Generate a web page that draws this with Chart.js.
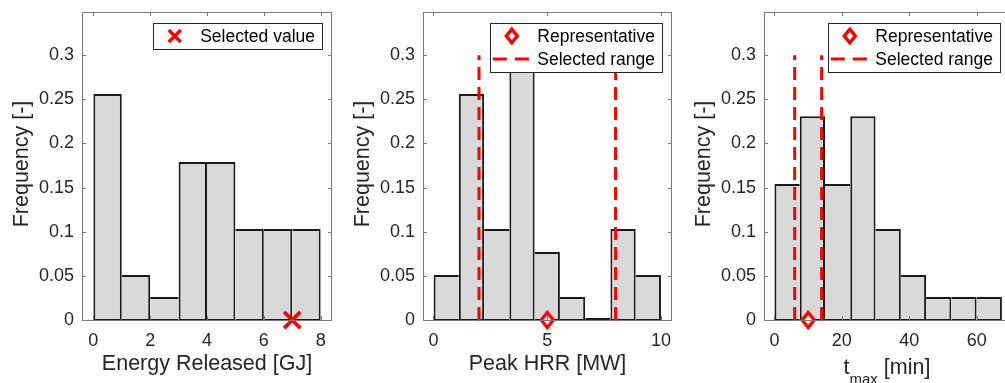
<!DOCTYPE html>
<html>
<head>
<meta charset="utf-8">
<script src="https://cdn.jsdelivr.net/npm/chart.js@4.4.0/dist/chart.umd.min.js"></script>
<style>
  body { margin: 0; width: 1005px; height: 383px; overflow: hidden; background: #fff; position: relative; }
  .pane { position: absolute; top: 0; height: 383px; }
</style>
</head>
<body>
<div class="pane" style="left:0px"><canvas id="c1" width="340" height="383"></canvas></div>
<div class="pane" style="left:340px"><canvas id="c2" width="340" height="383"></canvas></div>
<div class="pane" style="left:680px"><canvas id="c3" width="340" height="383"></canvas></div>
<script>
// histogram data (bin centres + relative frequency)
const energyCenters = [0.5, 1.5, 2.5, 3.5, 4.5, 5.5, 6.5, 7.5];
const energyFreq = [0.256, 0.051, 0.026, 0.179, 0.179, 0.103, 0.103, 0.103];
const energySelected = 7;
const energyTicks = [0, 2, 4, 6, 8];

const hrrCenters = [0.56, 1.67, 2.78, 3.89, 5.0, 6.11, 7.22, 8.33, 9.44];
const hrrFreq = [0.051, 0.256, 0.103, 0.333, 0.077, 0.026, 0, 0.103, 0.051];
const hrrRepresentative = 5;
const hrrRange = [2, 8];
const hrrTicks = [0, 5, 10];

const tmaxCenters = [3.75, 11.25, 18.75, 26.25, 33.75, 41.25, 48.75, 56.25, 63.75];
const tmaxFreq = [0.154, 0.231, 0.154, 0.231, 0.103, 0.051, 0.026, 0.026, 0.026];
const tmaxRepresentative = 10;
const tmaxRange = [6, 14];
const tmaxTicks = [0, 20, 40, 60];

const freqTicks = [0, 0.05, 0.1, 0.15, 0.2, 0.25, 0.3];
const rangeTop = 0.3;

const FONT = '"Liberation Sans", Arial, Helvetica, sans-serif';
const RED = '#ff0000';
const AX = '#262626';

// each shared bin edge is drawn once, by the taller bar, so it stays one line thick
function edgeWidths(h) {
  return h.map((v, i) => {
    const l = i === 0 || h[i - 1] < v ? 2 : 0;
    const r = i === h.length - 1 || h[i + 1] <= v ? 2 : 0;
    return { top: 2, bottom: 1, left: l, right: r };
  });
}

function drawSymbol(ctx, kind, cx, cy, s) {
  ctx.save();
  if (kind === 'cross') {
    ctx.strokeStyle = RED; ctx.lineWidth = 3.4;
    ctx.beginPath();
    ctx.moveTo(cx - s, cy - s); ctx.lineTo(cx + s, cy + s);
    ctx.moveTo(cx - s, cy + s); ctx.lineTo(cx + s, cy - s);
    ctx.stroke();
  } else if (kind === 'diamond') {
    ctx.strokeStyle = RED; ctx.fillStyle = '#fff'; ctx.lineWidth = 3.4;
    ctx.beginPath();
    ctx.moveTo(cx, cy - s * 1.25); ctx.lineTo(cx + s, cy);
    ctx.lineTo(cx, cy + s * 1.25); ctx.lineTo(cx - s, cy); ctx.closePath();
    ctx.fill(); ctx.stroke();
  } else if (kind === 'dash') {
    ctx.strokeStyle = RED; ctx.lineWidth = 3;
    ctx.setLineDash([14, 8]);
    ctx.beginPath(); ctx.moveTo(cx - 19, cy); ctx.lineTo(cx + 19, cy); ctx.stroke();
  }
  ctx.restore();
}

// little canvas used as the diamond point style (taller than wide, like MATLAB 'd')
const diamondImg = document.createElement('canvas');
diamondImg.width = 20; diamondImg.height = 24;
drawSymbol(diamondImg.getContext('2d'), 'diamond', 10, 12, 6);

const matlabLook = {
  id: 'matlabLook',
  afterDraw(chart, args, o) {
    const { ctx, chartArea: a, scales: { x, y } } = chart;
    ctx.save();
    // box + inward ticks
    ctx.strokeStyle = '#7a7a7a'; ctx.lineWidth = 1;
    ctx.beginPath();
    x.ticks.forEach(t => {
      const px = Math.round(x.getPixelForValue(t.value)) + 0.5;
      ctx.moveTo(px, a.bottom); ctx.lineTo(px, a.bottom - 4);
      ctx.moveTo(px, a.top); ctx.lineTo(px, a.top + 4);
    });
    y.ticks.forEach(t => {
      const py = Math.round(y.getPixelForValue(t.value)) + 0.5;
      ctx.moveTo(a.left, py); ctx.lineTo(a.left + 4, py);
      ctx.moveTo(a.right, py); ctx.lineTo(a.right - 4, py);
    });
    ctx.stroke();
    ctx.strokeRect(a.left + 0.5, a.top + 0.5, a.width - 1, a.height);

    // axis titles
    ctx.fillStyle = AX;
    ctx.font = '21.5px ' + FONT;
    ctx.save();
    ctx.translate(a.left - 60, (a.top + a.bottom) / 2 - 2);
    ctx.rotate(-Math.PI / 2);
    ctx.textAlign = 'center'; ctx.textBaseline = 'middle';
    ctx.fillText('Frequency [-]', 0, 0);
    ctx.restore();
    const cx = (a.left + a.right) / 2;
    ctx.textBaseline = 'alphabetic';
    if (o.xSub) {
      const parts = [[o.xTitle, 21.5, 0], [o.xSub, 15, 10], [o.xTail, 21.5, 0]];
      let w = 0;
      parts.forEach(p => { ctx.font = p[1] + 'px ' + FONT; w += ctx.measureText(p[0]).width; });
      let px = cx - w / 2;
      ctx.textAlign = 'left';
      parts.forEach(p => {
        ctx.font = p[1] + 'px ' + FONT;
        ctx.fillText(p[0], px, 374 + p[2]);
        px += ctx.measureText(p[0]).width;
      });
    } else {
      ctx.textAlign = 'center';
      ctx.fillText(o.xTitle, cx, 370);
    }

    // legend inside top-right corner
    ctx.font = '17.5px ' + FONT;
    let tw = 0;
    o.legend.forEach(it => { tw = Math.max(tw, ctx.measureText(it.label).width); });
    const bw = 47.5 + tw + 7;
    const bx = a.right - 10 - bw;
    const by = a.top + 11;
    const bh = 26 + (o.legend.length - 1) * 23;
    ctx.fillStyle = '#fff';
    ctx.fillRect(bx, by, bw, bh);
    ctx.strokeStyle = AX; ctx.lineWidth = 1;
    ctx.strokeRect(Math.round(bx) + 0.5, Math.round(by) + 0.5, Math.round(bw), Math.round(bh));
    o.legend.forEach((it, i) => {
      const ry = by + 13 + i * 23;
      drawSymbol(ctx, it.kind, bx + 22, ry, it.kind === 'cross' ? 6 : 5.5);
      ctx.fillStyle = '#000';
      ctx.textAlign = 'left'; ctx.textBaseline = 'middle';
      ctx.fillText(it.label, bx + 47.5, ry + 1);
    });
    ctx.restore();
  }
};

function noPad(s) {
  s.paddingTop = 0; s.paddingBottom = 0; s.paddingLeft = 0; s.paddingRight = 0;
}

function makeChart(id, p) {
  const widths = edgeWidths(p.freq);
  const datasets = [];
  p.markers.forEach(m => datasets.push(m));
  (p.range || []).forEach(v => datasets.push({
    type: 'line',
    data: [{ x: v, y: 0 }, { x: v, y: rangeTop }],
    borderColor: RED, borderWidth: 3, borderDash: [13, 7],
    pointRadius: 0, fill: false, order: 1
  }));
  datasets.push({
    type: 'bar',
    data: p.centers.map((c, i) => ({ x: c, y: p.freq[i] })),
    backgroundColor: '#d9d9d9',
    borderColor: '#1a1a1a',
    borderWidth: ctx => widths[ctx.dataIndex] || 1,
    borderSkipped: false,
    inflateAmount: 0,
    minBarLength: 2,
    barPercentage: 1, categoryPercentage: 1,
    order: 2
  });

  return new Chart(document.getElementById(id), {
    type: 'bar',
    data: { datasets },
    options: {
      responsive: false,
      animation: false,
      layout: { autoPadding: false, padding: { top: 12, right: p.padRight, left: 0, bottom: 0 } },
      plugins: {
        legend: { display: false },
        tooltip: { enabled: false },
        matlabLook: { xTitle: p.xTitle, xSub: p.xSub, xTail: p.xTail, legend: p.legend }
      },
      scales: {
        x: {
          type: 'linear', offset: false,
          min: p.xMin, max: p.xMax,
          grid: { display: false, drawTicks: false },
          border: { display: false },
          afterBuildTicks: s => { s.ticks = p.ticks.map(v => ({ value: v })); },
          afterFit: s => { s.height = 63; noPad(s); },
          ticks: {
            includeBounds: false, padding: 10, maxRotation: 0, autoSkip: false,
            color: AX, font: { family: FONT, size: 18 },
            callback: v => String(v)
          }
        },
        y: {
          min: 0, max: 0.349,
          grid: { display: false, drawTicks: false },
          border: { display: false },
          afterBuildTicks: s => { s.ticks = freqTicks.map(v => ({ value: v })); },
          afterFit: s => { s.width = p.yWidth; noPad(s); },
          ticks: {
            includeBounds: false, padding: 8,
            color: AX, font: { family: FONT, size: 18 },
            callback: v => String(+v.toFixed(2))
          }
        }
      }
    },
    plugins: [matlabLook]
  });
}

makeChart('c1', {
  centers: energyCenters, freq: energyFreq, ticks: energyTicks,
  xMin: -0.4, xMax: 8.4, yWidth: 82, padRight: 8,
  xTitle: 'Energy Released [GJ]',
  markers: [{
    type: 'scatter', data: [{ x: energySelected, y: 0 }],
    pointStyle: 'crossRot', pointRadius: 11.5, borderWidth: 3.6,
    borderColor: RED, backgroundColor: RED, clip: false, order: 0
  }],
  legend: [{ label: 'Selected value', kind: 'cross' }]
});

makeChart('c2', {
  centers: hrrCenters, freq: hrrFreq, ticks: hrrTicks,
  xMin: -0.46, xMax: 10.48, yWidth: 83, padRight: 8,
  xTitle: 'Peak HRR [MW]',
  range: hrrRange,
  markers: [{
    type: 'scatter', data: [{ x: hrrRepresentative, y: 0 }],
    pointStyle: diamondImg, clip: false, order: 0
  }],
  legend: [{ label: 'Representative', kind: 'diamond' }, { label: 'Selected range', kind: 'dash' }]
});

makeChart('c3', {
  centers: tmaxCenters, freq: tmaxFreq, ticks: tmaxTicks,
  xMin: -3.1, xMax: 69.9, yWidth: 84, padRight: 10,
  xTitle: 't', xSub: 'max', xTail: ' [min]',
  range: tmaxRange,
  markers: [{
    type: 'scatter', data: [{ x: tmaxRepresentative, y: 0 }],
    pointStyle: diamondImg, clip: false, order: 0
  }],
  legend: [{ label: 'Representative', kind: 'diamond' }, { label: 'Selected range', kind: 'dash' }]
});
</script>
</body>
</html>
